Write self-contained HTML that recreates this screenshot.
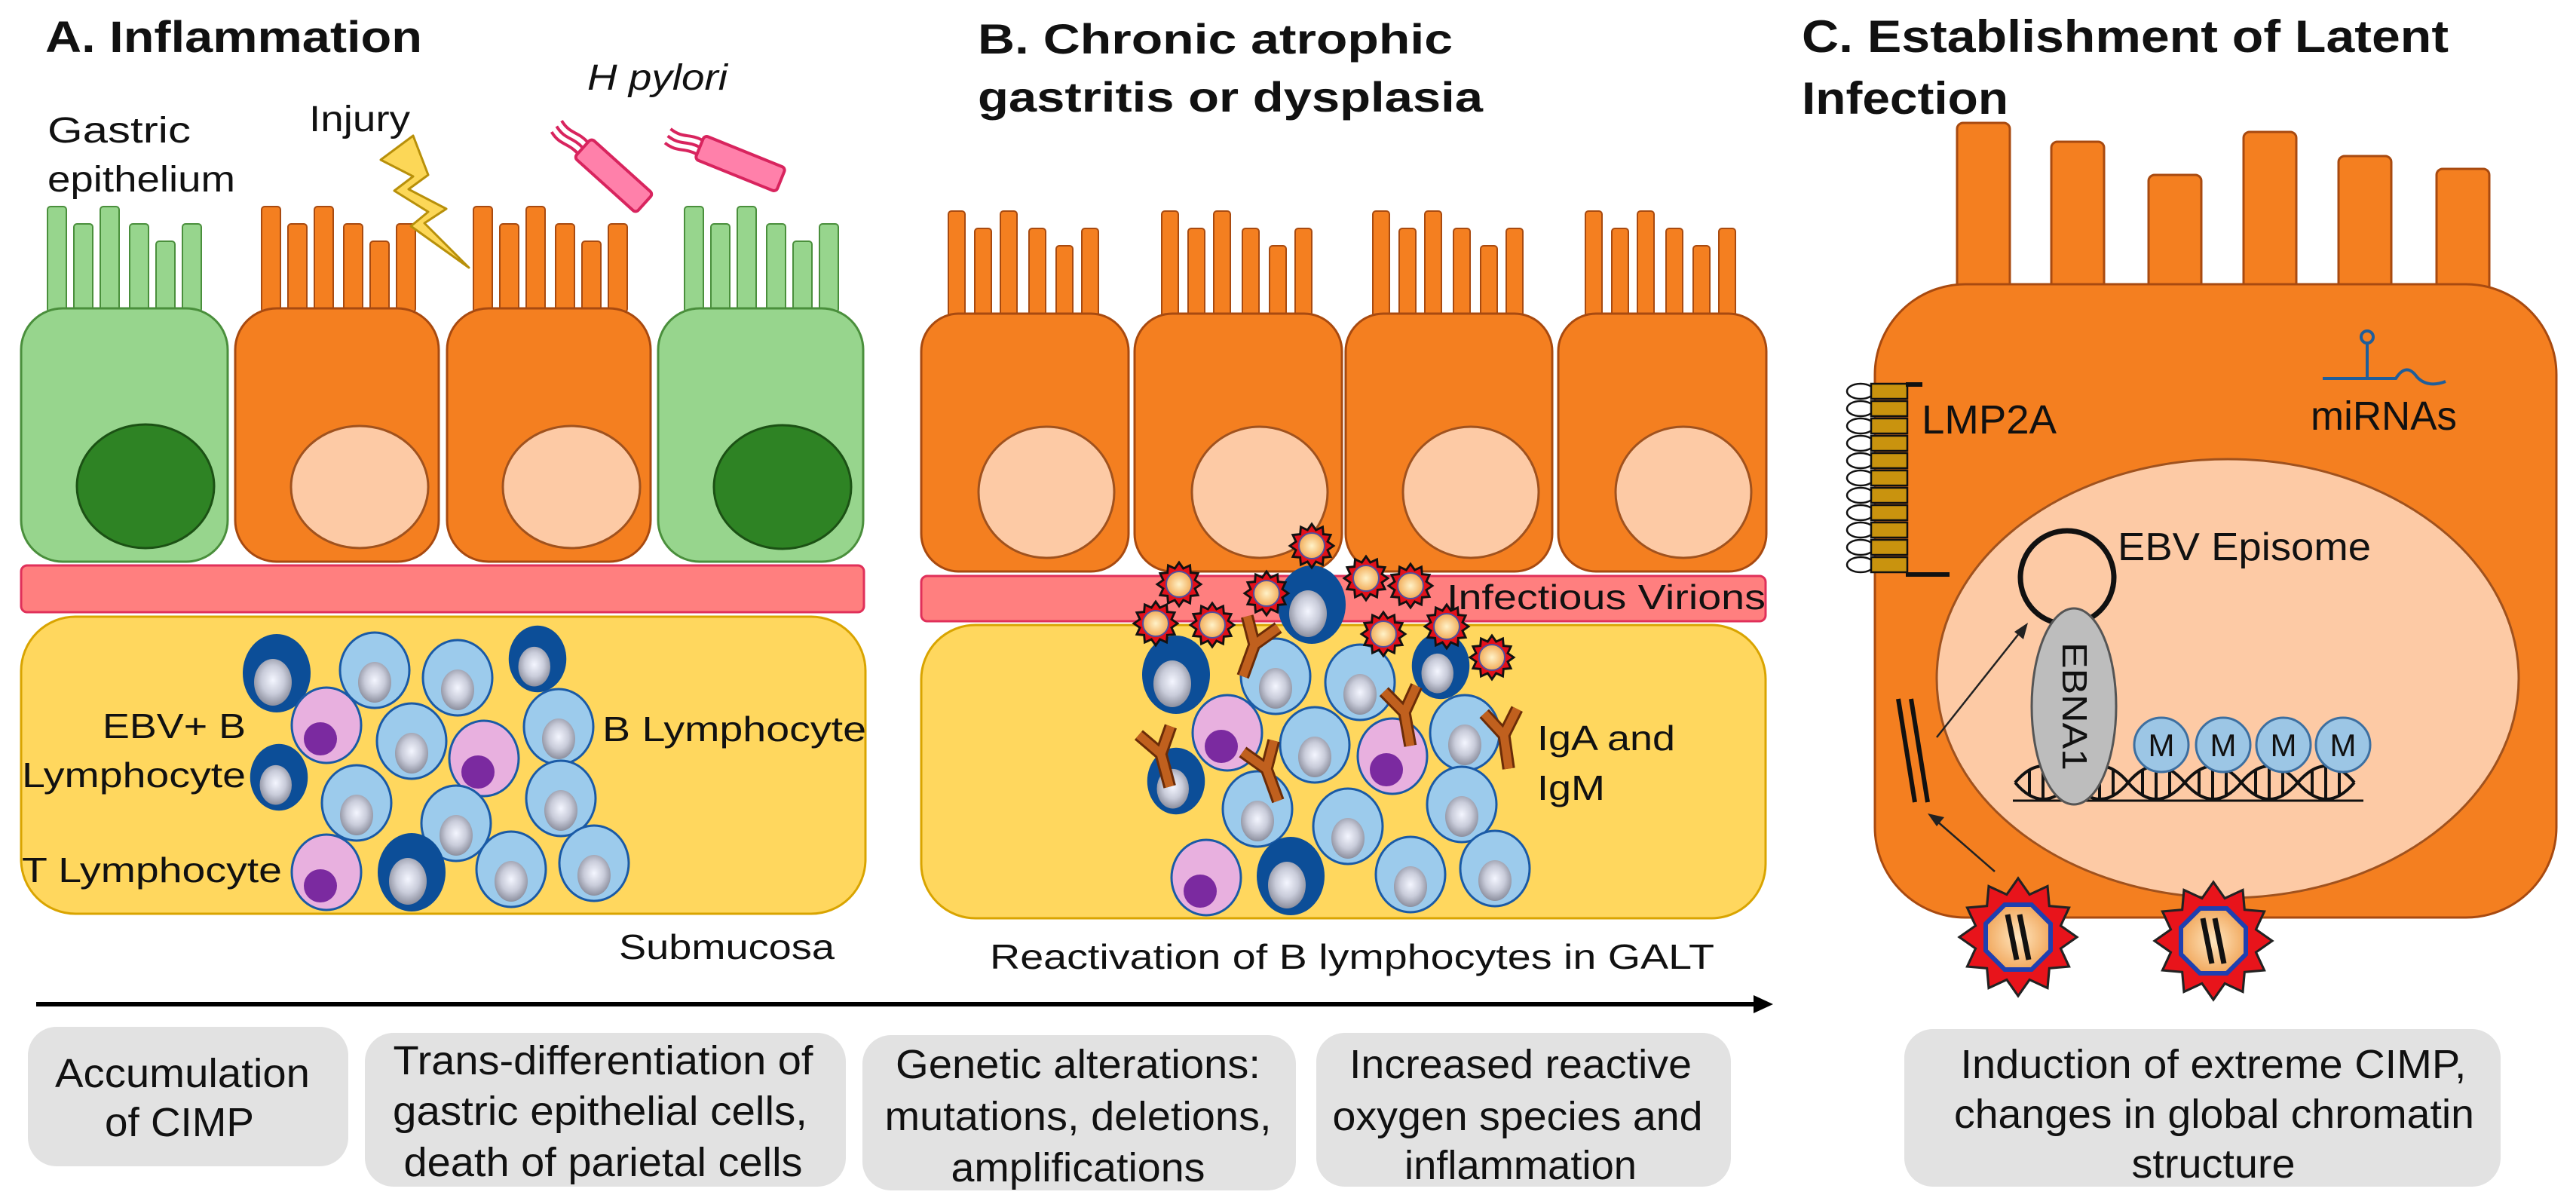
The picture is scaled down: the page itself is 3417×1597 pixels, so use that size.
<!DOCTYPE html>
<html><head><meta charset="utf-8">
<style>
html,body{margin:0;padding:0;background:#fff;}
svg{display:block;}
text{font-family:"Liberation Sans",Arial,sans-serif;fill:#111;}
</style></head>
<body>
<svg width="3417" height="1597" viewBox="0 0 3417 1597" xmlns="http://www.w3.org/2000/svg">
<defs>
  <radialGradient id="nuc" cx="50%" cy="45%" r="55%">
    <stop offset="0" stop-color="#f4f6ff"/><stop offset="0.55" stop-color="#c9ccda"/><stop offset="1" stop-color="#8c8f9e"/>
  </radialGradient>
  <radialGradient id="vir" cx="50%" cy="50%" r="50%">
    <stop offset="0" stop-color="#fff2c8"/><stop offset="1" stop-color="#f2ad5a"/>
  </radialGradient>
  <radialGradient id="bigvir" cx="50%" cy="50%" r="55%">
    <stop offset="0" stop-color="#ffe6bf"/><stop offset="1" stop-color="#f0a457"/>
  </radialGradient>
  <g id="lb">
    <ellipse rx="46" ry="50" fill="#9ccbec" stroke="#1a5aa6" stroke-width="3"/>
    <ellipse cx="0" cy="16" rx="22" ry="27" fill="url(#nuc)"/>
  </g>
  <g id="db">
    <ellipse rx="45" ry="52" fill="#0c4e98"/>
    <ellipse cx="-5" cy="12" rx="25" ry="31" fill="url(#nuc)"/>
  </g>
  <g id="pk">
    <ellipse rx="46" ry="50" fill="#e8b0df" stroke="#1a5aa6" stroke-width="3"/>
    <circle cx="-8" cy="18" r="22" fill="#7b2aa0"/>
  </g>
  <polygon id="star" points="100,0 72.4,19.4 86.6,50 53,53 50,86.6 19.4,72.4 0,100 -19.4,72.4 -50,86.6 -53,53 -86.6,50 -72.4,19.4 -100,0 -72.4,-19.4 -86.6,-50 -53,-53 -50,-86.6 -19.4,-72.4 0,-100 19.4,-72.4 50,-86.6 53,-53 86.6,-50 72.4,-19.4"/>
  <g id="sv">
    <use href="#star" transform="scale(0.29)" fill="#e3101a" stroke="#111" stroke-width="10"/>
    <circle r="17" fill="url(#vir)" stroke="#5050a0" stroke-width="2"/>
  </g>
  <g id="bv">
    <use href="#star" transform="scale(0.78)" fill="#e8141b" stroke="#222" stroke-width="4"/>
    <polygon points="43,17.8 17.8,43 -17.8,43 -43,17.8 -43,-17.8 -17.8,-43 17.8,-43 43,-17.8" fill="url(#bigvir)" stroke="#1e3fb0" stroke-width="6"/>
    <line x1="-14" y1="-30" x2="-2" y2="30" stroke="#111" stroke-width="7"/>
    <line x1="2" y1="-30" x2="14" y2="30" stroke="#111" stroke-width="7"/>
  </g>
  <g id="ab">
    <path d="M0,45 L0,0 L-22,-32 M0,0 L22,-32" fill="none" stroke="#6b2c08" stroke-width="17" stroke-linejoin="miter"/>
    <path d="M0,45 L0,0 L-22,-32 M0,0 L22,-32" fill="none" stroke="#c0601e" stroke-width="11" stroke-linejoin="miter"/>
  </g>
</defs>

<!-- ===== Panel A ===== -->
<text x="60" y="69" font-size="58" font-weight="bold" textLength="500" lengthAdjust="spacingAndGlyphs">A. Inflammation</text>
<text x="63" y="189" font-size="48" textLength="190" lengthAdjust="spacingAndGlyphs">Gastric</text>
<text x="63" y="254" font-size="48" textLength="249" lengthAdjust="spacingAndGlyphs">epithelium</text>
<text x="410" y="174" font-size="48" textLength="134" lengthAdjust="spacingAndGlyphs">Injury</text>
<text x="779" y="119" font-size="48" font-style="italic" textLength="186" lengthAdjust="spacingAndGlyphs">H pylori</text>

<!-- villi A -->
<g stroke-width="2">
  <g fill="#97d58d" stroke="#4a8f3c">
    <rect x="63" y="274" width="25" height="140" rx="4"/><rect x="98" y="297" width="25" height="117" rx="4"/><rect x="133" y="274" width="25" height="140" rx="4"/><rect x="172" y="297" width="25" height="117" rx="4"/><rect x="207" y="320" width="25" height="94" rx="4"/><rect x="242" y="297" width="25" height="117" rx="4"/>
    <rect x="908" y="274" width="25" height="140" rx="4"/><rect x="943" y="297" width="25" height="117" rx="4"/><rect x="978" y="274" width="25" height="140" rx="4"/><rect x="1017" y="297" width="25" height="117" rx="4"/><rect x="1052" y="320" width="25" height="94" rx="4"/><rect x="1087" y="297" width="25" height="117" rx="4"/>
  </g>
  <g fill="#f47f20" stroke="#a84a10">
    <rect x="347" y="274" width="25" height="140" rx="4"/><rect x="382" y="297" width="25" height="117" rx="4"/><rect x="417" y="274" width="25" height="140" rx="4"/><rect x="456" y="297" width="25" height="117" rx="4"/><rect x="491" y="320" width="25" height="94" rx="4"/><rect x="526" y="297" width="25" height="117" rx="4"/>
    <rect x="628" y="274" width="25" height="140" rx="4"/><rect x="663" y="297" width="25" height="117" rx="4"/><rect x="698" y="274" width="25" height="140" rx="4"/><rect x="737" y="297" width="25" height="117" rx="4"/><rect x="772" y="320" width="25" height="94" rx="4"/><rect x="807" y="297" width="25" height="117" rx="4"/>
  </g>
</g>
<!-- cells A -->
<rect x="28" y="409" width="274" height="336" rx="55" fill="#97d58d" stroke="#4a8f3c" stroke-width="3"/>
<rect x="312" y="409" width="270" height="336" rx="55" fill="#f47f20" stroke="#a84a10" stroke-width="3"/>
<rect x="593" y="409" width="270" height="336" rx="55" fill="#f47f20" stroke="#a84a10" stroke-width="3"/>
<rect x="873" y="409" width="272" height="336" rx="55" fill="#97d58d" stroke="#4a8f3c" stroke-width="3"/>
<ellipse cx="193" cy="645" rx="91" ry="82" fill="#2e8324" stroke="#1b5114" stroke-width="3"/>
<ellipse cx="477" cy="646" rx="91" ry="81" fill="#fdcaa5" stroke="#a0521e" stroke-width="3"/>
<ellipse cx="758" cy="646" rx="91" ry="81" fill="#fdcaa5" stroke="#a0521e" stroke-width="3"/>
<ellipse cx="1038" cy="646" rx="91" ry="82" fill="#2e8324" stroke="#1b5114" stroke-width="3"/>

<!-- lightning -->
<polygon points="505,212 548,180 568,232 542,251 592,277 563,296 622,355 545,300 568,281 523,253 548,234" fill="#fcd757" stroke="#b8900a" stroke-width="3" stroke-linejoin="round"/>
<!-- H pylori bacteria -->
<g transform="translate(814,233) rotate(42)">
  <rect x="-55" y="-17" width="110" height="34" rx="5" fill="#ff80aa" stroke="#d8245e" stroke-width="4"/>
  <path d="M-55,-10 C-75,-12 -80,-2 -100,-8 M-55,0 C-75,-2 -80,8 -100,2 M-55,10 C-75,8 -80,18 -100,12" fill="none" stroke="#d8245e" stroke-width="4"/>
</g>
<g transform="translate(982,217) rotate(22)">
  <rect x="-58" y="-17" width="116" height="34" rx="5" fill="#ff80aa" stroke="#d8245e" stroke-width="4"/>
  <path d="M-58,-10 C-78,-12 -83,-2 -103,-8 M-58,0 C-78,-2 -83,8 -103,2 M-58,10 C-78,8 -83,18 -103,12" fill="none" stroke="#d8245e" stroke-width="4"/>
</g>

<!-- band + submucosa A -->
<rect x="28" y="750" width="1118" height="62" rx="8" fill="#ff7f7f" stroke="#e0305a" stroke-width="3"/>
<rect x="28" y="818" width="1120" height="394" rx="72" fill="#ffd75e" stroke="#d9a400" stroke-width="3"/>

<!-- lymphocytes A -->
<use href="#db" x="367" y="893"/>
<use href="#lb" x="497" y="889"/>
<use href="#lb" x="607" y="899"/>
<use href="#db" transform="translate(713,874) scale(0.85)"/>
<use href="#pk" x="433" y="962"/>
<use href="#lb" x="546" y="983"/>
<use href="#pk" x="642" y="1006"/>
<use href="#lb" x="741" y="964"/>
<use href="#db" transform="translate(370,1031) scale(0.85)"/>
<use href="#lb" x="473" y="1065"/>
<use href="#lb" x="605" y="1092"/>
<use href="#lb" x="744" y="1059"/>
<use href="#pk" x="433" y="1157"/>
<use href="#db" x="546" y="1157"/>
<use href="#lb" x="678" y="1153"/>
<use href="#lb" x="788" y="1145"/>

<text x="326" y="979" font-size="46" text-anchor="end" textLength="190" lengthAdjust="spacingAndGlyphs">EBV+ B</text>
<text x="29" y="1044" font-size="46" textLength="297" lengthAdjust="spacingAndGlyphs">Lymphocyte</text>
<text x="29" y="1170" font-size="46" textLength="345" lengthAdjust="spacingAndGlyphs">T Lymphocyte</text>
<text x="799" y="983" font-size="46" textLength="350" lengthAdjust="spacingAndGlyphs">B Lymphocyte</text>
<text x="821" y="1272" font-size="46" textLength="286" lengthAdjust="spacingAndGlyphs">Submucosa</text>

<!-- ===== Panel B ===== -->
<text x="1297" y="71" font-size="56" font-weight="bold" textLength="630" lengthAdjust="spacingAndGlyphs">B. Chronic atrophic</text>
<text x="1297" y="148" font-size="56" font-weight="bold" textLength="670" lengthAdjust="spacingAndGlyphs">gastritis or dysplasia</text>

<g fill="#f47f20" stroke="#a84a10" stroke-width="2">
  <rect x="1258" y="280" width="22" height="140" rx="4"/><rect x="1293" y="303" width="22" height="117" rx="4"/><rect x="1327" y="280" width="22" height="140" rx="4"/><rect x="1365" y="303" width="22" height="117" rx="4"/><rect x="1401" y="326" width="22" height="94" rx="4"/><rect x="1435" y="303" width="22" height="117" rx="4"/>
  <rect x="1541" y="280" width="22" height="140" rx="4"/><rect x="1576" y="303" width="22" height="117" rx="4"/><rect x="1610" y="280" width="22" height="140" rx="4"/><rect x="1648" y="303" width="22" height="117" rx="4"/><rect x="1684" y="326" width="22" height="94" rx="4"/><rect x="1718" y="303" width="22" height="117" rx="4"/>
  <rect x="1821" y="280" width="22" height="140" rx="4"/><rect x="1856" y="303" width="22" height="117" rx="4"/><rect x="1890" y="280" width="22" height="140" rx="4"/><rect x="1928" y="303" width="22" height="117" rx="4"/><rect x="1964" y="326" width="22" height="94" rx="4"/><rect x="1998" y="303" width="22" height="117" rx="4"/>
  <rect x="2103" y="280" width="22" height="140" rx="4"/><rect x="2138" y="303" width="22" height="117" rx="4"/><rect x="2172" y="280" width="22" height="140" rx="4"/><rect x="2210" y="303" width="22" height="117" rx="4"/><rect x="2246" y="326" width="22" height="94" rx="4"/><rect x="2280" y="303" width="22" height="117" rx="4"/>
</g>
<g fill="#f47f20" stroke="#a84a10" stroke-width="3">
  <rect x="1222" y="416" width="275" height="342" rx="50"/>
  <rect x="1505" y="416" width="275" height="342" rx="50"/>
  <rect x="1785" y="416" width="274" height="342" rx="50"/>
  <rect x="2067" y="416" width="276" height="342" rx="50"/>
</g>
<g fill="#fdcaa5" stroke="#a0521e" stroke-width="3">
  <ellipse cx="1388" cy="653" rx="90" ry="87"/>
  <ellipse cx="1671" cy="653" rx="90" ry="87"/>
  <ellipse cx="1951" cy="653" rx="90" ry="87"/>
  <ellipse cx="2233" cy="653" rx="90" ry="87"/>
</g>
<rect x="1222" y="764" width="1120" height="60" rx="8" fill="#ff7f7f" stroke="#e0305a" stroke-width="3"/>
<rect x="1222" y="829" width="1120" height="389" rx="72" fill="#ffd75e" stroke="#d9a400" stroke-width="3"/>

<!-- lymphocytes B -->
<use href="#db" x="1740" y="802"/>
<use href="#db" x="1560" y="895"/>
<use href="#lb" x="1692" y="897"/>
<use href="#lb" x="1804" y="905"/>
<use href="#db" transform="translate(1911,883) scale(0.85)"/>
<use href="#pk" x="1628" y="972"/>
<use href="#lb" x="1744" y="988"/>
<use href="#pk" x="1847" y="1003"/>
<use href="#lb" x="1943" y="972"/>
<use href="#db" transform="translate(1560,1036) scale(0.85)"/>
<use href="#lb" x="1668" y="1073"/>
<use href="#lb" x="1788" y="1096"/>
<use href="#lb" x="1939" y="1067"/>
<use href="#pk" x="1600" y="1164"/>
<use href="#db" x="1712" y="1162"/>
<use href="#lb" x="1871" y="1160"/>
<use href="#lb" x="1983" y="1152"/>

<!-- antibodies -->
<use href="#ab" transform="translate(1664,855) rotate(20)"/>
<use href="#ab" transform="translate(1540,1000) rotate(-15)"/>
<use href="#ab" transform="translate(1680,1020) rotate(-20)"/>
<use href="#ab" transform="translate(1863,945) rotate(-10)"/>
<use href="#ab" transform="translate(1995,975) rotate(-8)"/>

<!-- small virions -->
<use href="#sv" x="1740" y="724"/>
<use href="#sv" x="1564" y="775"/>
<use href="#sv" x="1680" y="787"/>
<use href="#sv" x="1812" y="767"/>
<use href="#sv" x="1871" y="777"/>
<use href="#sv" x="1533" y="827"/>
<use href="#sv" x="1608" y="829"/>
<use href="#sv" x="1835" y="841"/>
<use href="#sv" x="1919" y="831"/>
<use href="#sv" x="1979" y="872"/>

<text x="1919" y="808" font-size="46" textLength="423" lengthAdjust="spacingAndGlyphs">Infectious Virions</text>
<text x="2039" y="995" font-size="46" textLength="183" lengthAdjust="spacingAndGlyphs">IgA and</text>
<text x="2039" y="1061" font-size="46" textLength="90" lengthAdjust="spacingAndGlyphs">IgM</text>
<text x="1313" y="1285" font-size="46" textLength="961" lengthAdjust="spacingAndGlyphs">Reactivation of B lymphocytes in GALT</text>

<!-- timeline arrow -->
<line x1="48" y1="1332" x2="2330" y2="1332" stroke="#000" stroke-width="6"/>
<polygon points="2326,1320 2352,1332 2326,1344" fill="#000"/>

<!-- bottom boxes -->
<g fill="#e2e2e2">
  <rect x="37" y="1362" width="425" height="185" rx="38"/>
  <rect x="484" y="1370" width="638" height="204" rx="38"/>
  <rect x="1144" y="1373" width="575" height="206" rx="38"/>
  <rect x="1746" y="1370" width="550" height="204" rx="38"/>
  <rect x="2526" y="1365" width="791" height="209" rx="38"/>
</g>
<g font-size="54" text-anchor="middle">
  <text x="242" y="1442" textLength="338" lengthAdjust="spacingAndGlyphs">Accumulation</text>
  <text x="238" y="1507" textLength="198" lengthAdjust="spacingAndGlyphs">of CIMP</text>
  <text x="800" y="1425" textLength="557" lengthAdjust="spacingAndGlyphs">Trans-differentiation of</text>
  <text x="796" y="1492" textLength="550" lengthAdjust="spacingAndGlyphs">gastric epithelial cells,</text>
  <text x="800" y="1560" textLength="529" lengthAdjust="spacingAndGlyphs">death of parietal cells</text>
  <text x="1430" y="1430" textLength="484" lengthAdjust="spacingAndGlyphs">Genetic alterations:</text>
  <text x="1430" y="1499" textLength="513" lengthAdjust="spacingAndGlyphs">mutations, deletions,</text>
  <text x="1430" y="1567" textLength="337" lengthAdjust="spacingAndGlyphs">amplifications</text>
  <text x="2017" y="1430" textLength="454" lengthAdjust="spacingAndGlyphs">Increased reactive</text>
  <text x="2013" y="1499" textLength="491" lengthAdjust="spacingAndGlyphs">oxygen species and</text>
  <text x="2017" y="1564" textLength="308" lengthAdjust="spacingAndGlyphs">inflammation</text>
  <text x="2936" y="1430" textLength="671" lengthAdjust="spacingAndGlyphs">Induction of extreme CIMP,</text>
  <text x="2937" y="1496" textLength="690" lengthAdjust="spacingAndGlyphs">changes in global chromatin</text>
  <text x="2936" y="1562" textLength="217" lengthAdjust="spacingAndGlyphs">structure</text>
</g>

<!-- ===== Panel C ===== -->
<text x="2390" y="69" font-size="60" font-weight="bold" textLength="858" lengthAdjust="spacingAndGlyphs">C. Establishment of Latent</text>
<text x="2390" y="151" font-size="60" font-weight="bold" textLength="274" lengthAdjust="spacingAndGlyphs">Infection</text>

<g fill="#f47f20" stroke="#a84a10" stroke-width="3">
  <rect x="2596" y="163" width="70" height="230" rx="8"/>
  <rect x="2721" y="188" width="70" height="205" rx="8"/>
  <rect x="2850" y="232" width="70" height="161" rx="8"/>
  <rect x="2976" y="175" width="70" height="218" rx="8"/>
  <rect x="3102" y="207" width="70" height="186" rx="8"/>
  <rect x="3232" y="224" width="70" height="169" rx="8"/>
  <rect x="2487" y="377" width="904" height="840" rx="120"/>
</g>
<ellipse cx="2955" cy="900" rx="386" ry="291" fill="#fdcaa5" stroke="#a0521e" stroke-width="3"/>

<!-- LMP2A -->
<g stroke="#111" stroke-width="2.5">
  <g fill="none">
    <ellipse cx="2468" cy="519" rx="18" ry="10"/><ellipse cx="2468" cy="542" rx="18" ry="10"/><ellipse cx="2468" cy="565" rx="18" ry="10"/><ellipse cx="2468" cy="588" rx="18" ry="10"/><ellipse cx="2468" cy="611" rx="18" ry="10"/><ellipse cx="2468" cy="634" rx="18" ry="10"/><ellipse cx="2468" cy="657" rx="18" ry="10"/><ellipse cx="2468" cy="680" rx="18" ry="10"/><ellipse cx="2468" cy="703" rx="18" ry="10"/><ellipse cx="2468" cy="726" rx="18" ry="10"/><ellipse cx="2468" cy="749" rx="18" ry="10"/>
  </g>
  <g fill="#c9930e">
    <rect x="2482" y="509" width="48" height="20"/><rect x="2482" y="532" width="48" height="20"/><rect x="2482" y="555" width="48" height="20"/><rect x="2482" y="578" width="48" height="20"/><rect x="2482" y="601" width="48" height="20"/><rect x="2482" y="624" width="48" height="20"/><rect x="2482" y="647" width="48" height="20"/><rect x="2482" y="670" width="48" height="20"/><rect x="2482" y="693" width="48" height="20"/><rect x="2482" y="716" width="48" height="20"/><rect x="2482" y="739" width="48" height="20"/>
  </g>
</g>
<line x1="2528" y1="510" x2="2550" y2="510" stroke="#111" stroke-width="6"/>
<line x1="2528" y1="762" x2="2586" y2="762" stroke="#111" stroke-width="6"/>
<text x="2549" y="575" font-size="54" textLength="179" lengthAdjust="spacingAndGlyphs">LMP2A</text>

<!-- miRNA -->
<path d="M3081,502 L3140,502 L3140,455 M3140,502 L3178,502 Q3192,480 3206,500 Q3220,515 3244,506" fill="none" stroke="#1f5e9a" stroke-width="4"/>
<circle cx="3140" cy="447" r="8" fill="none" stroke="#1f5e9a" stroke-width="4"/>
<text x="3065" y="570" font-size="54" textLength="194" lengthAdjust="spacingAndGlyphs">miRNAs</text>

<!-- episome -->
<circle cx="2742" cy="766" r="62" fill="none" stroke="#111" stroke-width="7"/>
<text x="2809" y="743" font-size="52" textLength="336" lengthAdjust="spacingAndGlyphs">EBV Episome</text>

<!-- DNA -->
<g fill="none" stroke="#111" stroke-width="4">
  <path d="M2673,1038 Q2710,994 2748,1038 T2823,1038 T2898,1038 T2973,1038 T3048,1038 T3123,1038"/>
  <path d="M2673,1038 Q2710,1082 2748,1038 T2823,1038 T2898,1038 T2973,1038 T3048,1038 T3123,1038"/>
  <line x1="2670" y1="1062" x2="3135" y2="1062" stroke-width="3"/>
</g>
<g stroke="#111" stroke-width="4">
  <line x1="2692" y1="1022" x2="2692" y2="1054"/><line x1="2710" y1="1016" x2="2710" y2="1060"/><line x1="2728" y1="1022" x2="2728" y2="1054"/>
  <line x1="2767" y1="1022" x2="2767" y2="1054"/><line x1="2785" y1="1016" x2="2785" y2="1060"/><line x1="2803" y1="1022" x2="2803" y2="1054"/>
  <line x1="2842" y1="1022" x2="2842" y2="1054"/><line x1="2860" y1="1016" x2="2860" y2="1060"/><line x1="2878" y1="1022" x2="2878" y2="1054"/>
  <line x1="2917" y1="1022" x2="2917" y2="1054"/><line x1="2935" y1="1016" x2="2935" y2="1060"/><line x1="2953" y1="1022" x2="2953" y2="1054"/>
  <line x1="2992" y1="1022" x2="2992" y2="1054"/><line x1="3010" y1="1016" x2="3010" y2="1060"/><line x1="3028" y1="1022" x2="3028" y2="1054"/>
  <line x1="3067" y1="1022" x2="3067" y2="1054"/><line x1="3085" y1="1016" x2="3085" y2="1060"/><line x1="3103" y1="1022" x2="3103" y2="1054"/>
</g>

<!-- EBNA1 -->
<ellipse cx="2751" cy="937" rx="56" ry="130" fill="#bdbdbd" stroke="#555" stroke-width="3"/>
<text transform="translate(2736,937) rotate(90)" font-size="46" text-anchor="middle" textLength="170" lengthAdjust="spacingAndGlyphs">EBNA1</text>

<!-- M circles -->
<g fill="#9cc6e5" stroke="#3d6fa0" stroke-width="3">
  <circle cx="2867" cy="988" r="36"/><circle cx="2949" cy="988" r="36"/><circle cx="3029" cy="988" r="36"/><circle cx="3108" cy="988" r="36"/>
</g>
<g font-size="42" text-anchor="middle">
  <text x="2867" y="1003">M</text><text x="2949" y="1003">M</text><text x="3029" y="1003">M</text><text x="3108" y="1003">M</text>
</g>

<!-- genome double line + arrows -->
<line x1="2518" y1="927" x2="2540" y2="1064" stroke="#111" stroke-width="6"/>
<line x1="2535" y1="927" x2="2557" y2="1064" stroke="#111" stroke-width="6"/>
<line x1="2569" y1="978" x2="2680" y2="838" stroke="#222" stroke-width="2.5"/>
<polygon points="2690,826 2684,848 2672,838" fill="#222"/>
<line x1="2646" y1="1156" x2="2568" y2="1088" stroke="#222" stroke-width="2.5"/>
<polygon points="2557,1079 2579,1084 2569,1096" fill="#222"/>

<!-- big virions -->
<use href="#bv" x="2677" y="1243"/>
<use href="#bv" x="2936" y="1248"/>
</svg>
</body></html>
